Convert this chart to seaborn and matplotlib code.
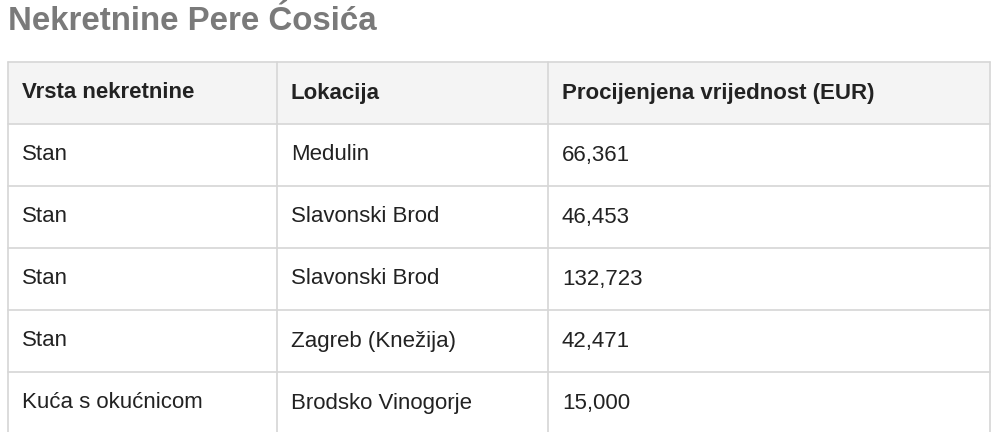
import matplotlib
matplotlib.use("Agg")
import matplotlib.pyplot as plt
import seaborn as sns

sns.set_style("white")
plt.rcParams['font.family'] = ['Liberation Sans', 'DejaVu Sans']

title = "Nekretnine Pere Ćosića"
headers = ["Vrsta nekretnine", "Lokacija", "Procijenjena vrijednost (EUR)"]
vrsta = ["Stan", "Stan", "Stan", "Stan", "Kuća s okućnicom"]
lokacija = ["Medulin", "Slavonski Brod", "Slavonski Brod", "Zagreb (Knežija)", "Brodsko Vinogorje"]
vrijednost = [66361, 46453, 132723, 42471, 15000]

fig = plt.figure(figsize=(10, 4.32), dpi=100)
ax = fig.add_axes([0, 0, 1, 1])
ax.set_xlim(0, 1000)
ax.set_ylim(432, 0)
ax.axis("off")

col_x = [8, 277, 548, 990]
top = 62
row_h = 62
line_c = "#d6d6d6"

ax.text(8, 21, title, fontsize=23.8, fontweight="bold", color="#7a7a7a", va="center", ha="left")

ax.add_patch(plt.Rectangle((col_x[0], top), col_x[-1] - col_x[0], row_h, facecolor="#f4f4f4", edgecolor="none"))

rows = [[v, l, f"{n:,}"] for v, l, n in zip(vrsta, lokacija, vrijednost)]
nrows = len(rows) + 1
bottom = top + nrows * row_h
for i in range(nrows + 1):
    y = top + i * row_h
    ax.plot([col_x[0], col_x[-1]], [y, y], color=line_c, lw=1.2)
for x in col_x:
    ax.plot([x, x], [top, bottom], color=line_c, lw=1.2)

for j, h in enumerate(headers):
    ax.text(col_x[j] + 14, top + row_h / 2, h, fontsize=16, fontweight="bold", color="#222222", va="center")
for i, r in enumerate(rows):
    yc = top + (i + 1) * row_h + row_h / 2
    for j, c in enumerate(r):
        ax.text(col_x[j] + 14, yc, c, fontsize=16, color="#222222", va="center")

fig.savefig("out.png", dpi=100)
